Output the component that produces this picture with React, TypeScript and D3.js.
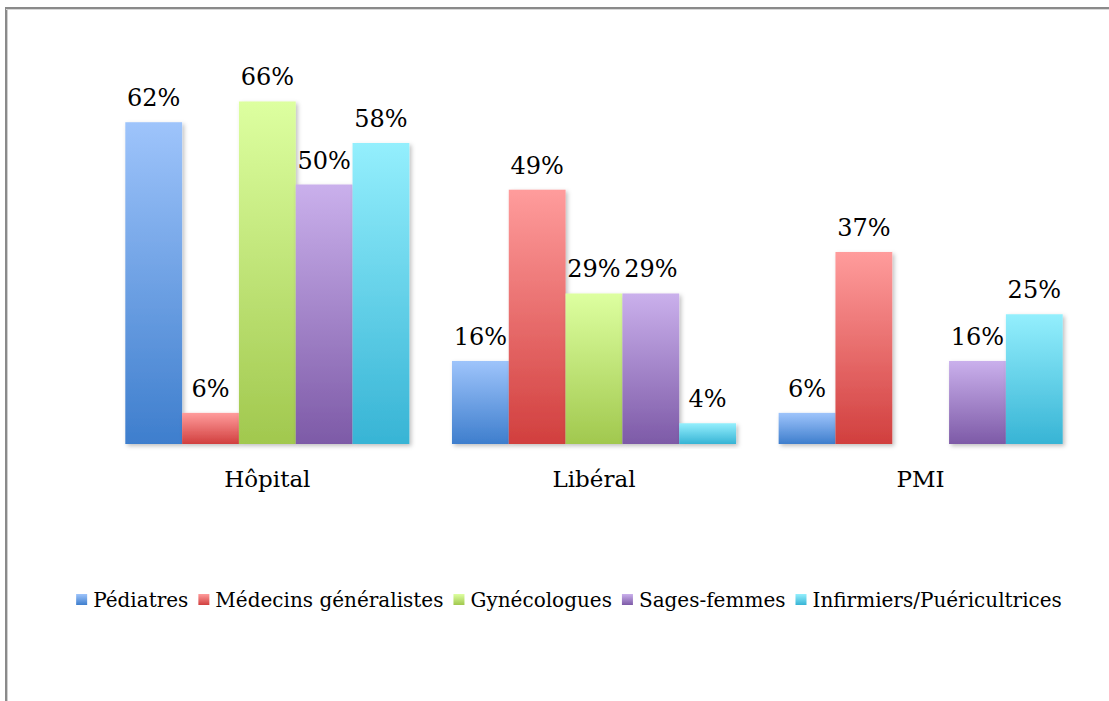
import React, { useLayoutEffect, useRef, useState } from "react";
import * as d3 from "d3";

const categories = ["Hôpital", "Libéral", "PMI"];
const seriesNames = ["Pédiatres", "Médecins généralistes", "Gynécologues", "Sages-femmes", "Infirmiers/Puéricultrices"];
const pediatres = [62, 16, 6];
const generalistes = [6, 49, 37];
const gynecologues = [66, 29, null];
const sagesFemmes = [50, 29, 16];
const infirmiers = [58, 4, 25];
const seriesValues = [pediatres, generalistes, gynecologues, sagesFemmes, infirmiers];

const colorsTop = ["#9EC4FB", "#FF9C9C", "#DDFFA0", "#CAB0EC", "#94EFFD"];
const colorsBottom = ["#3E7ECD", "#D13F3E", "#A1C84E", "#7D5AA7", "#37B4D5"];

const W = 1109;
const H = 701;
const FONT = "'DejaVu Serif', serif";

export default function App() {
  const x0 = d3.scaleBand<string>().domain(categories).range([104, 1084]).padding(0);
  const band = x0.bandwidth();
  const barW = band / 5.75;
  const gap = band - barW * 5;
  const x1 = d3.scaleBand<string>().domain(seriesNames).range([gap / 2, band - gap / 2]).padding(0);
  const y = d3.scaleLinear().domain([0, 70]).range([444, 444 - 70 * 5.19]);

  const textRefs = useRef<(SVGTextElement | null)[]>([]);
  const [widths, setWidths] = useState<number[]>(seriesNames.map(() => 0));
  useLayoutEffect(() => {
    const w = textRefs.current.map((t) => (t ? t.getComputedTextLength() : 0));
    setWidths(w);
  }, []);

  const sq = 11;
  const sqGap = 6;
  const itemGap = 10;
  const total = widths.reduce((a, w) => a + sq + sqGap + w, 0) + itemGap * (seriesNames.length - 1);
  const legendCenter = 569;
  let cursor = legendCenter - total / 2;
  const legendPos = widths.map((w) => {
    const p = cursor;
    cursor += sq + sqGap + w + itemGap;
    return p;
  });

  return (
    <svg width={W} height={H} style={{ position: "absolute", left: 0, top: 0, background: "#fff" }}>
      <defs>
        {seriesNames.map((s, i) => (
          <linearGradient key={s} id={`g${i}`} x1="0" y1="0" x2="0" y2="1">
            <stop offset="0%" stopColor={colorsTop[i]} />
            <stop offset="100%" stopColor={colorsBottom[i]} />
          </linearGradient>
        ))}
        <filter id="shadow" x="-20%" y="-20%" width="140%" height="140%">
          <feDropShadow dx="2" dy="2" stdDeviation="2" floodColor="#000" floodOpacity="0.25" />
        </filter>
      </defs>
      <rect x={6} y={8} width={W + 20} height={H + 20} fill="none" stroke="#8a8a8a" strokeWidth={2} />
      <line x1={6} y1={9.5} x2={W} y2={9.5} stroke="#d8d8d8" strokeWidth={1} />
      <line x1={7.5} y1={9} x2={7.5} y2={H} stroke="#d0d0d0" strokeWidth={1} />

      {categories.map((c, ci) => (
        <g key={c} transform={`translate(${x0(c)},0)`}>
          {seriesNames.map((s, si) => {
            const v = seriesValues[si][ci];
            if (v === null || v === undefined) return null;
            return (
              <rect
                key={s}
                x={x1(s)}
                y={y(v)}
                width={x1.bandwidth()}
                height={y(0) - y(v)}
                fill={`url(#g${si})`}
                filter="url(#shadow)"
              />
            );
          })}
        </g>
      ))}

      <line x1={104} y1={444} x2={1084} y2={444} stroke="#8c8c8c" strokeWidth={2} filter="url(#shadow)" />

      {categories.map((c, ci) => (
        <g key={c + "l"} transform={`translate(${x0(c)},0)`}>
          {seriesNames.map((s, si) => {
            const v = seriesValues[si][ci];
            if (v === null || v === undefined) return null;
            return (
              <text
                key={s}
                x={(x1(s) as number) + x1.bandwidth() / 2}
                y={y(v) - 16}
                textAnchor="middle"
                fontFamily={FONT}
                fontSize={24}
                fill="#000"
              >
                {`${v}%`}
              </text>
            );
          })}
        </g>
      ))}

      {categories.map((c) => (
        <text
          key={c + "c"}
          x={(x0(c) as number) + band / 2}
          y={487}
          textAnchor="middle"
          fontFamily={FONT}
          fontSize={23}
          fill="#000"
        >
          {c}
        </text>
      ))}

      {seriesNames.map((s, i) => (
        <g key={s + "leg"} transform={`translate(${legendPos[i]},0)`}>
          <rect x={0} y={594} width={sq} height={sq} fill={`url(#g${i})`} />
          <text
            ref={(el) => {
              textRefs.current[i] = el;
            }}
            x={sq + sqGap}
            y={607}
            fontFamily={FONT}
            fontSize={20}
            fill="#000"
          >
            {s}
          </text>
        </g>
      ))}
    </svg>
  );
}
